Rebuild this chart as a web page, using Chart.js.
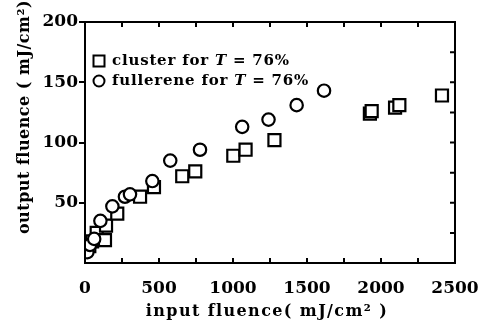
<!DOCTYPE html>
<html>
<head>
<meta charset="utf-8">
<script src="https://cdn.jsdelivr.net/npm/chart.js@4"></script>
<style>
  html, body { margin: 0; padding: 0; background: #fff; }
  #wrap { width: 490px; height: 329px; }
</style>
</head>
<body>
<div id="wrap"><canvas id="fluenceChart"></canvas></div>
<script>
// values (input fluence, output fluence) in mJ/cm2
const clusterX = [29, 48, 79, 135, 142, 218, 372, 466, 657, 745, 1002, 1085, 1280, 1925, 1937, 2095, 2124, 2412];
const clusterY = [14, 18, 25, 19, 31, 41, 55, 63, 72, 76, 89, 94, 102, 124, 126, 129, 131, 139];
const fullereneX = [16, 34, 62, 104, 185, 270, 304, 455, 576, 777, 1062, 1240, 1430, 1615];
const fullereneY = [9, 15, 20, 35, 47, 55, 57, 68, 85, 94, 113, 119, 131, 143];
const xTicks = [0, 500, 1000, 1500, 2000, 2500];
const yTicks = [50, 100, 150, 200];
const legendLabels = ['cluster for ', 'fullerene for '];
const yTitle = 'output fluence ( mJ/cm\u00b2)';
const xTitle = 'input fluence( mJ/cm\u00b2 )';

const serif = '"DejaVu Serif", "Liberation Serif", serif';

function toPoints(xs, ys) {
    return xs.map((x, i) => ({ x: x, y: ys[i] }));
}

// frame, inward minor ticks, axis titles and the legend
const framePlugin = {
    id: 'frame',
    afterDatasetsDraw(chart) {
        const ctx = chart.ctx;
        const a = chart.chartArea;
        const xs = chart.scales.x, ys = chart.scales.y;
        ctx.save();
        ctx.strokeStyle = '#000';
        ctx.lineWidth = 2;
        ctx.strokeRect(a.left, a.top, a.right - a.left, a.bottom - a.top);
        ctx.beginPath();
        for (let v = 250; v < 2500; v += 250) {
            const px = xs.getPixelForValue(v);
            ctx.moveTo(px, a.top); ctx.lineTo(px, a.top + 5);
            ctx.moveTo(px, a.bottom); ctx.lineTo(px, a.bottom - 5);
        }
        for (let v = 25; v < 200; v += 25) {
            const py = ys.getPixelForValue(v);
            ctx.moveTo(a.right, py); ctx.lineTo(a.right - 5, py);
        }
        ctx.stroke();

        ctx.fillStyle = '#000';
        ctx.textAlign = 'center';
        ctx.textBaseline = 'middle';

        // x axis title
        ctx.font = 'bold 16px ' + serif;
        ctx.letterSpacing = '1.4px';
        ctx.fillText(xTitle, 267, 312);

        // y axis title
        ctx.save();
        ctx.translate(25, 117);
        ctx.rotate(-Math.PI / 2);
        ctx.letterSpacing = '0.5px';
        ctx.font = 'bold 16px ' + serif;
        ctx.fillText(yTitle, 0, 0);
        ctx.restore();

        // legend
        const rows = [
            { y: 61, style: 'rect' },
            { y: 81, style: 'circle' }
        ];
        ctx.textAlign = 'left';
        ctx.letterSpacing = '0.8px';
        rows.forEach((r, i) => {
            const mx = a.left + 14;
            ctx.lineWidth = 2;
            ctx.strokeStyle = '#000';
            ctx.fillStyle = '#fff';
            ctx.beginPath();
            if (r.style === 'rect') ctx.rect(mx - 5.5, r.y - 5.5, 11, 11);
            else ctx.arc(mx, r.y, 5.5, 0, Math.PI * 2);
            ctx.fill(); ctx.stroke();
            ctx.fillStyle = '#000';
            ctx.font = 'bold 15px ' + serif;
            let tx = mx + 13;
            ctx.fillText(legendLabels[i], tx, r.y);
            tx += ctx.measureText(legendLabels[i]).width;
            ctx.font = 'italic bold 15px ' + serif;
            ctx.fillText('T', tx, r.y);
            tx += ctx.measureText('T').width;
            ctx.font = 'bold 15px ' + serif;
            ctx.fillText(' = 76%', tx, r.y);
        });
        ctx.restore();
    }
};

const ctx = document.getElementById('fluenceChart').getContext('2d');
new Chart(ctx, {
    type: 'scatter',
    data: {
        datasets: [{
            label: 'cluster for T = 76%',
            data: toPoints(clusterX, clusterY),
            pointStyle: 'rect',
            pointRadius: 8.5,
            borderColor: '#000',
            backgroundColor: '#fff',
            borderWidth: 2.2,
            order: 1
        }, {
            label: 'fullerene for T = 76%',
            data: toPoints(fullereneX, fullereneY),
            pointStyle: 'circle',
            pointRadius: 6.2,
            borderColor: '#000',
            backgroundColor: '#fff',
            borderWidth: 2.2,
            order: 0
        }]
    },
    options: {
        responsive: true,
        maintainAspectRatio: false,
        animation: false,
        layout: { padding: { top: 22, right: 35, left: 0, bottom: 0 } },
        plugins: {
            legend: { display: false },
            tooltip: { enabled: false }
        },
        scales: {
            x: {
                type: 'linear',
                min: 0, max: 2500,
                afterBuildTicks: s => { s.ticks = xTicks.map(v => ({ value: v })); },
                afterFit: s => { s.height = 66; },
                grid: { display: false, drawOnChartArea: false },
                border: { color: '#000', width: 2 },
                ticks: {
                    color: '#000',
                    padding: 7,
                    callback: v => String(v),
                    font: { family: serif, weight: 'bold', size: 17 }
                }
            },
            y: {
                type: 'linear',
                min: 0, max: 200,
                afterBuildTicks: s => { s.ticks = yTicks.map(v => ({ value: v })); },
                afterFit: s => { s.width = 85; },
                grid: { drawOnChartArea: false, tickLength: 6, color: '#000', lineWidth: 2 },
                border: { color: '#000', width: 2 },
                ticks: {
                    color: '#000',
                    padding: 1,
                    callback: v => String(v),
                    font: { family: serif, weight: 'bold', size: 17 }
                }
            }
        }
    },
    plugins: [framePlugin]
});
</script>
</body>
</html>
